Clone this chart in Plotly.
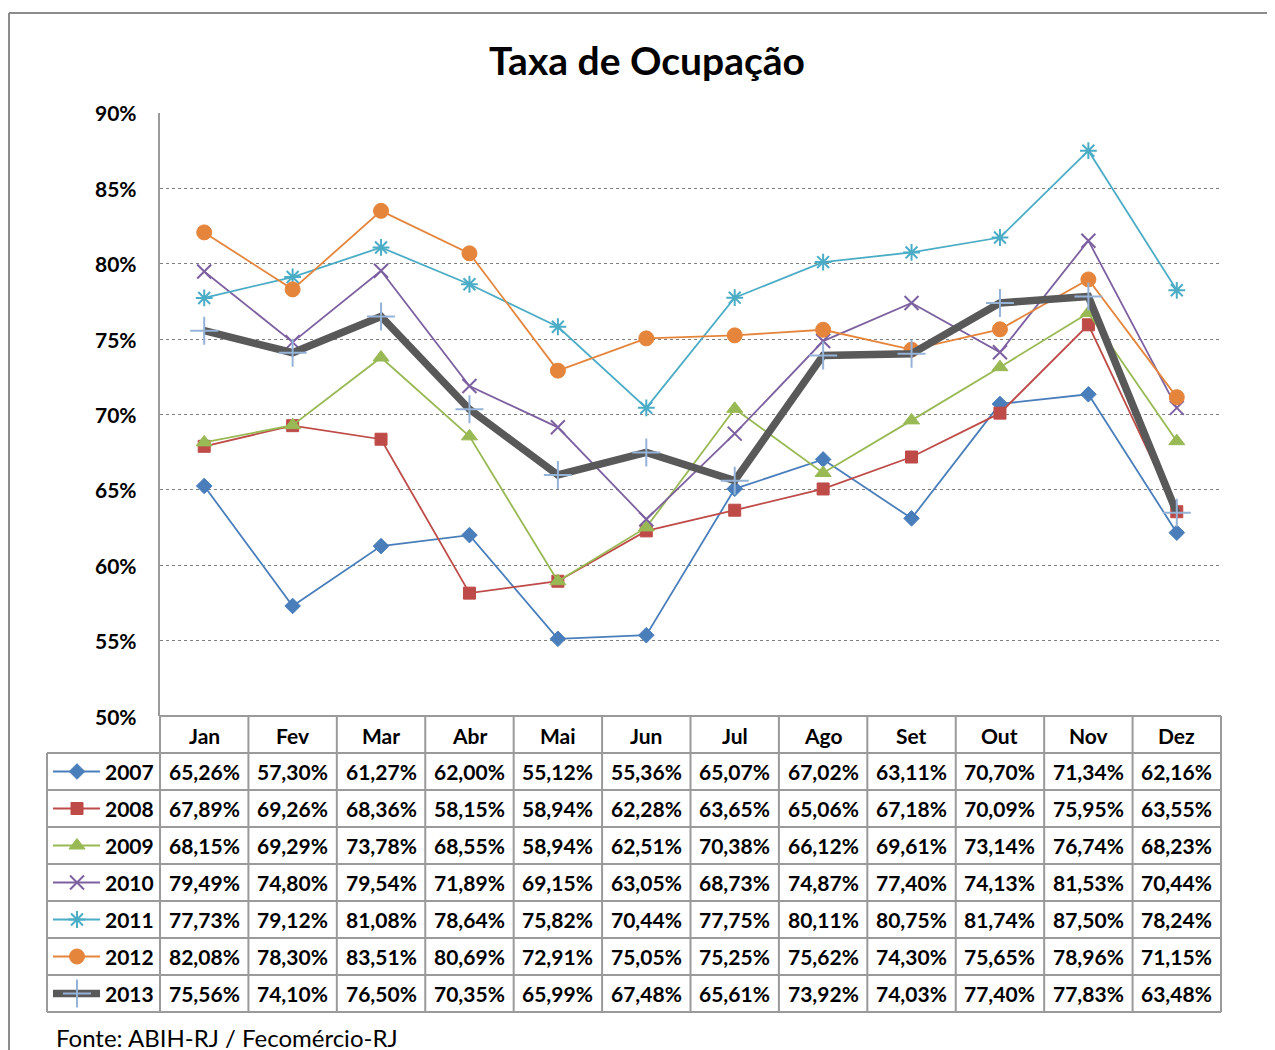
import plotly.graph_objects as go

months = ["Jan", "Fev", "Mar", "Abr", "Mai", "Jun", "Jul", "Ago", "Set", "Out", "Nov", "Dez"]
years = ["2007", "2008", "2009", "2010", "2011", "2012", "2013"]

v2007 = [65.26, 57.30, 61.27, 62.00, 55.12, 55.36, 65.07, 67.02, 63.11, 70.70, 71.34, 62.16]
v2008 = [67.89, 69.26, 68.36, 58.15, 58.94, 62.28, 63.65, 65.06, 67.18, 70.09, 75.95, 63.55]
v2009 = [68.15, 69.29, 73.78, 68.55, 58.94, 62.51, 70.38, 66.12, 69.61, 73.14, 76.74, 68.23]
v2010 = [79.49, 74.80, 79.54, 71.89, 69.15, 63.05, 68.73, 74.87, 77.40, 74.13, 81.53, 70.44]
v2011 = [77.73, 79.12, 81.08, 78.64, 75.82, 70.44, 77.75, 80.11, 80.75, 81.74, 87.50, 78.24]
v2012 = [82.08, 78.30, 83.51, 80.69, 72.91, 75.05, 75.25, 75.62, 74.30, 75.65, 78.96, 71.15]
v2013 = [75.56, 74.10, 76.50, 70.35, 65.99, 67.48, 65.61, 73.92, 74.03, 77.40, 77.83, 63.48]

y_ticks = [50, 55, 60, 65, 70, 75, 80, 85, 90]
title_text = "Taxa de Ocupação"
source_text = "Fonte: ABIH-RJ / Fecomércio-RJ"

series = [v2007, v2008, v2009, v2010, v2011, v2012, v2013]
styles = [
    dict(color="#4A7EBB", symbol="diamond", size=12, lw=1.8, mcolor="#4A7EBB", mline=1),
    dict(color="#BE4B48", symbol="square", size=12, lw=1.8, mcolor="#BE4B48", mline=1),
    dict(color="#98B954", symbol="triangle-up", size=14, lw=1.8, mcolor="#98B954", mline=1),
    dict(color="#7D60A0", symbol="x-thin-open", size=14, lw=1.8, mcolor="#7D60A0", mline=2),
    dict(color="#4BACC6", symbol="asterisk-open", size=14, lw=1.8, mcolor="#4BACC6", mline=2),
    dict(color="#E5853B", symbol="circle", size=15, lw=1.8, mcolor="#E5853B", mline=1),
    dict(color="#595959", symbol="cross-thin-open", size=20, lw=7.5, mcolor="#95B3D7", mline=2),
]

W, H = 1275, 1050
OFF = 8  # page body margin compensation
def X(px):
    return (px - OFF) / W
def Y(py):
    return 1 - (py - OFF) / H

PL, PR, PT, PB = 160, 1221, 113, 716
FONT = "Lato"
GRID = "#9A9A9A"
FS = 21

fig = go.Figure()

for yr, vals, st in zip(years, series, styles):
    fig.add_trace(go.Scatter(
        x=list(range(len(months))), y=vals, mode="lines+markers", name=yr,
        line=dict(color=st["color"], width=st["lw"]),
        marker=dict(symbol=st["symbol"], size=st["size"], color=st["mcolor"],
                    line=dict(color=st["mcolor"], width=st["mline"])),
        xaxis="x", yaxis="y", showlegend=False, hoverinfo="skip",
    ))

# table geometry
col_w = (PR - PL) / len(months)
row_top = 753
row_h = 37
tbl_bottom = row_top + row_h * len(years)
LEG_L = 47

shapes = []
def line(x0, y0, x1, y1, color=GRID, width=2):
    shapes.append(dict(type="line", xref="paper", yref="paper",
                       x0=X(x0), y0=Y(y0), x1=X(x1), y1=Y(y1),
                       line=dict(color=color, width=width)))

# outer frame
line(9, 13, W + OFF, 13, color="#8C8C8C", width=2)
line(9, 13, 9, H + OFF, color="#8C8C8C", width=2)

# horizontal lines
line(PL, PB, PR, PB)
for k in range(len(years) + 1):
    yy = row_top + k * row_h
    line(LEG_L, yy, PR, yy)
# vertical lines
line(LEG_L, row_top, LEG_L, tbl_bottom)
for i in range(len(months) + 1):
    xx = PL + i * col_w
    line(xx, PB, xx, tbl_bottom)

annotations = []
def text(px, py, s, size=FS, bold=True, xanchor="center"):
    annotations.append(dict(xref="paper", yref="paper", x=X(px), y=Y(py),
                            text=("<b>%s</b>" % s) if bold else s, showarrow=False,
                            xanchor=xanchor, yanchor="middle",
                            font=dict(family=FONT, size=size, color="#000000")))

# header
for i, m in enumerate(months):
    text(PL + (i + 0.5) * col_w, (PB + row_top) / 2 + 1, m)

# rows
for r, (yr, vals) in enumerate(zip(years, series)):
    cy = row_top + (r + 0.5) * row_h
    text(156, cy, yr, xanchor="right")
    for i, v in enumerate(vals):
        s = ("%.2f%%" % v).replace(".", ",")
        text(PL + (i + 0.5) * col_w, cy, s)

# title & source
text(647, 60, title_text, size=39)
text(54, 1037, source_text, size=24, bold=False, xanchor="left")

# y tick labels
for t in y_ticks:
    py = PB - (t - y_ticks[0]) / (y_ticks[-1] - y_ticks[0]) * (PB - PT)
    text(139, py, "%d%%" % t, size=21, xanchor="right")

# legend keys in the table (overlay axis in pixel units)
for r, st in enumerate(styles):
    cy = row_top + (r + 0.5) * row_h
    fig.add_trace(go.Scatter(
        x=[53, 100], y=[cy, cy], mode="lines",
        line=dict(color=st["color"], width=st["lw"]),
        xaxis="x2", yaxis="y2", showlegend=False, hoverinfo="skip",
    ))
    fig.add_trace(go.Scatter(
        x=[77], y=[cy], mode="markers",
        marker=dict(symbol=st["symbol"], size=st["size"], color=st["mcolor"],
                    line=dict(color=st["mcolor"], width=st["mline"])),
        xaxis="x2", yaxis="y2", showlegend=False, hoverinfo="skip",
    ))

fig.update_layout(
    width=W, height=H,
    margin=dict(l=0, r=0, t=0, b=0, autoexpand=False),
    paper_bgcolor="white", plot_bgcolor="rgba(0,0,0,0)",
    showlegend=False,
    xaxis=dict(domain=[X(PL), X(PR)], range=[-0.5, len(months) - 0.5],
               showticklabels=False, showgrid=False, zeroline=False, showline=False,
               fixedrange=True),
    yaxis=dict(domain=[Y(PB), Y(PT)], range=[50, 90], tickvals=y_ticks,
               showticklabels=False,
               showgrid=True, gridcolor="#7F7F7F", griddash="dot", gridwidth=1,
               showline=True, linecolor=GRID, linewidth=2, zeroline=False,
               ticks="", fixedrange=True),
    xaxis2=dict(domain=[0, 1], range=[OFF, W + OFF], visible=False, fixedrange=True),
    yaxis2=dict(domain=[0, 1], range=[H + OFF, OFF], visible=False, fixedrange=True),
    shapes=shapes,
    annotations=annotations,
)

fig.write_html("out.html")
